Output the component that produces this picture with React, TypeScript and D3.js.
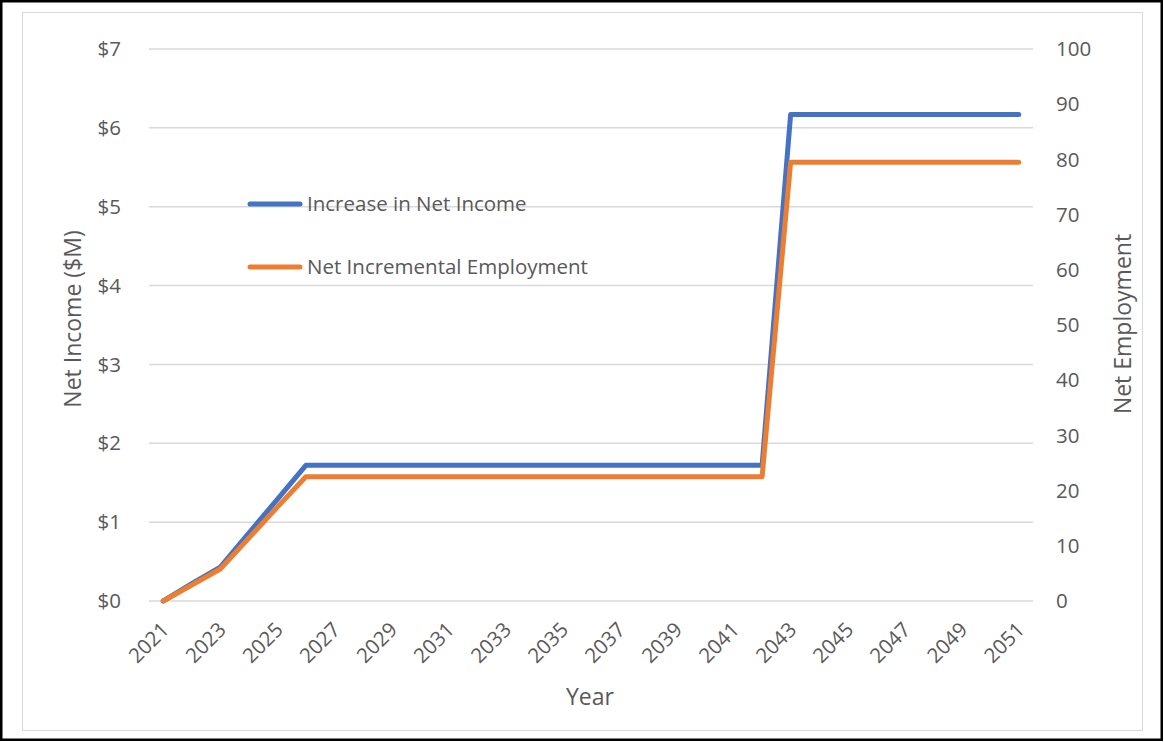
import React from "react";
import * as d3 from "d3";

const years = [
  "2021","2022","2023","2024","2025","2026","2027","2028","2029","2030",
  "2031","2032","2033","2034","2035","2036","2037","2038","2039","2040",
  "2041","2042","2043","2044","2045","2046","2047","2048","2049","2050","2051",
];
const netIncome = [
  0, 0.22, 0.43, 0.86, 1.29, 1.72, 1.72, 1.72, 1.72, 1.72,
  1.72, 1.72, 1.72, 1.72, 1.72, 1.72, 1.72, 1.72, 1.72, 1.72,
  1.72, 1.72, 6.17, 6.17, 6.17, 6.17, 6.17, 6.17, 6.17, 6.17, 6.17,
];
const netEmployment = [
  0, 2.9, 5.8, 11.4, 17.0, 22.5, 22.5, 22.5, 22.5, 22.5,
  22.5, 22.5, 22.5, 22.5, 22.5, 22.5, 22.5, 22.5, 22.5, 22.5,
  22.5, 22.5, 79.5, 79.5, 79.5, 79.5, 79.5, 79.5, 79.5, 79.5, 79.5,
];
const leftTicks = [0, 1, 2, 3, 4, 5, 6, 7];
const rightTicks = [0, 10, 20, 30, 40, 50, 60, 70, 80, 90, 100];
const seriesNames = ["Increase in Net Income", "Net Incremental Employment"];

const W = 1164;
const H = 742;
const FONT = "'Open Sans', sans-serif";
const TXT = "#595959";
const BLUE = "#4472C4";
const ORANGE = "#ED7D31";

export default function App() {
  const plot = { left: 149, right: 1033, top: 49, bottom: 601 };
  const x = d3.scaleBand<string>().domain(years).range([plot.left, plot.right]);
  const cx = (d: string) => (x(d) as number) + x.bandwidth() / 2;
  const yL = d3.scaleLinear().domain([0, 7]).range([plot.bottom, plot.top]);
  const yR = d3.scaleLinear().domain([0, 100]).range([plot.bottom, plot.top]);

  const lineL = d3.line<number>().x((_, i) => cx(years[i])).y((d) => yL(d));
  const lineR = d3.line<number>().x((_, i) => cx(years[i])).y((d) => yR(d));

  const labelYears = years.filter((_, i) => i % 2 === 0);

  return (
    <svg
      width={W}
      height={H}
      style={{ position: "absolute", left: 0, top: 0, fontFamily: FONT }}
    >
      <rect x={0} y={0} width={W} height={H} fill="#fff" />
      <rect x={1.25} y={1.25} width={W - 3.5} height={H - 3.5} fill="none" stroke="#000" strokeWidth={2.5} />
      <rect x={22.5} y={12.5} width={1120} height={718} fill="#fff" stroke="#D9D9D9" strokeWidth={1} />

      {leftTicks.map((t) => (
        <line key={"g" + t} x1={plot.left} x2={plot.right} y1={yL(t)} y2={yL(t)} stroke="#D9D9D9" strokeWidth={1.5} />
      ))}

      {leftTicks.map((t) => (
        <text key={"l" + t} x={121} y={yL(t)} dy="0.35em" textAnchor="end" fontSize={20.5} fill={TXT}>
          {"$" + t}
        </text>
      ))}
      {rightTicks.map((t) => (
        <text key={"r" + t} x={1056} y={yR(t)} dy="0.35em" textAnchor="start" fontSize={20.5} fill={TXT}>
          {t}
        </text>
      ))}
      {labelYears.map((yv) => (
        <text
          key={"x" + yv}
          transform={`translate(${cx(yv) + 2},${626}) rotate(-45)`}
          dy="0.35em"
          textAnchor="end"
          fontSize={20.5}
          fill={TXT}
        >
          {yv}
        </text>
      ))}

      <text transform={`translate(81,319) rotate(-90)`} textAnchor="middle" fontSize={23} fill={TXT}>
        Net Income ($M)
      </text>
      <text transform={`translate(1131,324) rotate(-90)`} textAnchor="middle" fontSize={23} fill={TXT}>
        Net Employment
      </text>
      <text x={590} y={705} textAnchor="middle" fontSize={23} fill={TXT}>
        Year
      </text>

      <path d={lineL(netIncome) || ""} fill="none" stroke={BLUE} strokeWidth={5} strokeLinejoin="round" strokeLinecap="round" />
      <path d={lineR(netEmployment) || ""} fill="none" stroke={ORANGE} strokeWidth={5} strokeLinejoin="round" strokeLinecap="round" />

      {seriesNames.map((name, i) => {
        const ly = i === 0 ? 204 : 267;
        return (
          <g key={name}>
            <line x1={250} x2={300} y1={ly} y2={ly} stroke={i === 0 ? BLUE : ORANGE} strokeWidth={5} strokeLinecap="round" />
            <text x={307} y={ly} dy="0.35em" fontSize={20.5} fill={TXT}>
              {name}
            </text>
          </g>
        );
      })}
    </svg>
  );
}
